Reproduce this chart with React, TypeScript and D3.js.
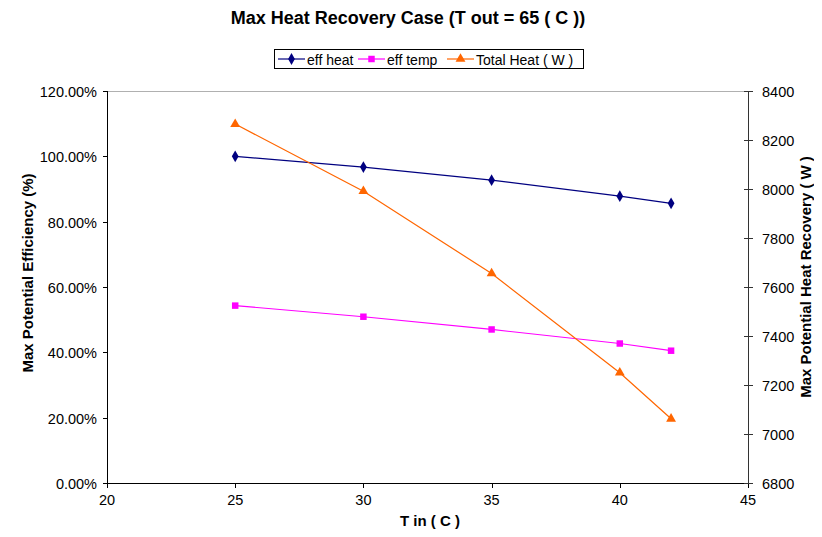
import React, { useEffect, useRef } from "react";
import * as d3 from "d3";

const tIn = [25, 30, 35, 40, 42];
const effHeat = [100.0, 96.7, 92.7, 87.8, 85.6];
const effTemp = [54.3, 50.9, 47.0, 42.7, 40.5];
const totalHeat = [8265, 7991, 7655, 7250, 7062];
const xTicks = [20, 25, 30, 35, 40, 45];
const leftTicks = [0, 20, 40, 60, 80, 100, 120];
const rightTicks = [6800, 7000, 7200, 7400, 7600, 7800, 8000, 8200, 8400];

const W = 822, H = 537;
const L = 107, R = 748, T = 91, B = 483;
const FONT = "'Liberation Sans', Arial, sans-serif";

export default function App() {
  const ref = useRef<SVGSVGElement>(null);
  useEffect(() => {
    const svg = d3.select(ref.current);
    svg.selectAll("*").remove();
    const x = d3.scaleLinear().domain([20, 45]).range([L, R]);
    const yL = d3.scaleLinear().domain([0, 120]).range([B, T]);
    const yR = d3.scaleLinear().domain([6800, 8400]).range([B, T]);

    svg.append("rect").attr("x", 0).attr("y", 0).attr("width", W).attr("height", H).attr("fill", "#fff");

    // title
    svg.append("text").attr("x", 408).attr("y", 24).attr("text-anchor", "middle")
      .attr("font-family", FONT).attr("font-size", 18).attr("font-weight", "bold").text("Max Heat Recovery Case (T out = 65 ( C ))");

    // top border
    svg.append("line").attr("x1", L).attr("x2", R).attr("y1", T + 0.5).attr("y2", T + 0.5).attr("stroke", "#b0b0b0");

    const g = svg.append("g").attr("font-family", FONT).attr("font-size", 14.5);
    // bottom axis
    g.append("line").attr("x1", L - 4).attr("x2", R + 4).attr("y1", B + 0.5).attr("y2", B + 0.5).attr("stroke", "#000");
    xTicks.forEach(t => {
      g.append("line").attr("x1", Math.round(x(t)) + 0.5).attr("x2", Math.round(x(t)) + 0.5).attr("y1", B).attr("y2", B + 5).attr("stroke", "#000");
      g.append("text").attr("x", x(t)).attr("y", B + 22).attr("text-anchor", "middle").text(String(t));
    });
    // left axis
    g.append("line").attr("x1", L + 0.5).attr("x2", L + 0.5).attr("y1", T).attr("y2", B).attr("stroke", "#000");
    leftTicks.forEach(t => {
      const y = Math.round(yL(t)) + 0.5;
      g.append("line").attr("x1", L - 4).attr("x2", L).attr("y1", y).attr("y2", y).attr("stroke", "#000");
      g.append("text").attr("x", L - 10).attr("y", y + 5).attr("text-anchor", "end").text(t.toFixed(2) + "%");
    });
    // right axis
    g.append("line").attr("x1", R + 0.5).attr("x2", R + 0.5).attr("y1", T).attr("y2", B).attr("stroke", "#333");
    rightTicks.forEach(t => {
      const y = Math.round(yR(t)) + 0.5;
      g.append("line").attr("x1", R - 4).attr("x2", R + 5).attr("y1", y).attr("y2", y).attr("stroke", "#333");
      g.append("text").attr("x", R + 14).attr("y", y + 5).attr("text-anchor", "start").text(String(t));
    });

    // axis titles
    const tg = svg.append("g").attr("font-family", FONT).attr("font-size", 15).attr("font-weight", "bold");
    tg.append("text").attr("x", 430).attr("y", 526).attr("text-anchor", "middle").text("T in ( C )");
    tg.append("text").attr("transform", `translate(33,${(T + B) / 2 - 14}) rotate(-90)`).attr("text-anchor", "middle").text("Max Potential Efficiency (%)");
    tg.append("text").attr("transform", `translate(811,${(T + B) / 2 - 10}) rotate(-90)`).attr("text-anchor", "middle").text("Max Potential Heat Recovery ( W )");

    const series = [
      { vals: effHeat, y: yL, color: "#000080", shape: "diamond" },
      { vals: effTemp, y: yL, color: "#ff00ff", shape: "square" },
      { vals: totalHeat, y: yR, color: "#ff6600", shape: "triangle" },
    ];
    const sym = (s: string) =>
      s === "diamond" ? d3.symbol().type(d3.symbolDiamond).size(40)
        : s === "square" ? d3.symbol().type(d3.symbolSquare).size(42)
          : d3.symbol().type(d3.symbolTriangle).size(42);

    series.forEach(s => {
      const line = d3.line<number>().x((_, i) => x(tIn[i])).y(v => s.y(v));
      svg.append("path").attr("d", line(s.vals) as string).attr("fill", "none").attr("stroke", s.color).attr("stroke-width", 1.2);
      s.vals.forEach((v, i) => {
        svg.append("path").attr("d", sym(s.shape)() as string)
          .attr("transform", `translate(${x(tIn[i])},${s.y(v)})`).attr("fill", s.color);
      });
    });

    // legend
    const lg = svg.append("g");
    lg.append("rect").attr("x", 274.5).attr("y", 49.5).attr("width", 309).attr("height", 19).attr("fill", "#fff").attr("stroke", "#000");
    const items = [
      { label: "eff heat", x0: 278, s: series[0] },
      { label: "eff temp", x0: 358, s: series[1] },
      { label: "Total Heat ( W )", x0: 447, s: series[2] },
    ];
    items.forEach(it => {
      lg.append("line").attr("x1", it.x0).attr("x2", it.x0 + 27).attr("y1", 59).attr("y2", 59).attr("stroke", it.s.color).attr("stroke-width", 1.2);
      lg.append("path").attr("d", sym(it.s.shape)() as string).attr("transform", `translate(${it.x0 + 13.5},59)`).attr("fill", it.s.color);
      lg.append("text").attr("x", it.x0 + 29).attr("y", 64.5).attr("font-family", FONT).attr("font-size", 14).text(it.label);
    });
  }, []);
  return <svg ref={ref} width={W} height={H} style={{ display: "block", margin: "-8px" }} />;
}
